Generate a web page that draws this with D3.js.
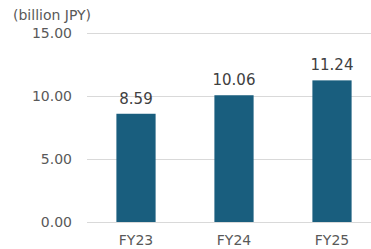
<!DOCTYPE html>
<html><head><meta charset="utf-8">
<script src="https://cdn.jsdelivr.net/npm/d3@7"></script>
<style>body{margin:0;background:#fff}svg{display:block}</style>
</head><body>
<script>
const categories = ["FY23","FY24","FY25"];
const values = [8.59, 10.06, 11.24];
const yTicks = [0, 5, 10, 15];
const unitLabel = "(billion JPY)";

const W = 371, H = 249;
const svg = d3.select("body").append("svg").attr("width", W).attr("height", H);
const font = "'DejaVu Sans', Verdana, sans-serif";

const y = d3.scaleLinear().domain([0, 15]).range([222, 33]);
const x = d3.scaleBand().domain(categories).range([87, 381]).paddingInner(0.6).paddingOuter(0.3);

svg.append("g").selectAll("line").data(yTicks).join("line")
  .attr("x1", 87).attr("x2", 371)
  .attr("y1", d => Math.round(y(d)) + 0.5).attr("y2", d => Math.round(y(d)) + 0.5)
  .attr("stroke", "#d9d9d9").attr("stroke-width", 1);

svg.append("g").selectAll("text").data(yTicks).join("text")
  .attr("x", 72).attr("y", d => y(d)).attr("dy", "0.35em")
  .attr("text-anchor", "end").attr("font-family", font).attr("font-size", 14)
  .attr("fill", "#595959").text(d => d.toFixed(2));

svg.append("text").attr("x", 13).attr("y", 20).attr("font-family", font)
  .attr("font-size", 14).attr("fill", "#595959").text(unitLabel);

svg.append("g").selectAll("rect").data(values).join("rect")
  .attr("x", (d, i) => x(categories[i])).attr("width", x.bandwidth())
  .attr("y", d => y(d)).attr("height", d => y(0) - y(d))
  .attr("fill", "#195e7e");

svg.append("g").selectAll("text").data(values).join("text")
  .attr("x", (d, i) => x(categories[i]) + x.bandwidth() / 2)
  .attr("y", d => y(d) - 10).attr("text-anchor", "middle")
  .attr("font-family", font).attr("font-size", 15).attr("fill", "#404040")
  .text(d => d.toFixed(2));

svg.append("g").selectAll("text").data(categories).join("text")
  .attr("x", d => x(d) + x.bandwidth() / 2).attr("y", 245)
  .attr("text-anchor", "middle").attr("font-family", font).attr("font-size", 14)
  .attr("fill", "#595959").text(d => d);
</script>
</body></html>
